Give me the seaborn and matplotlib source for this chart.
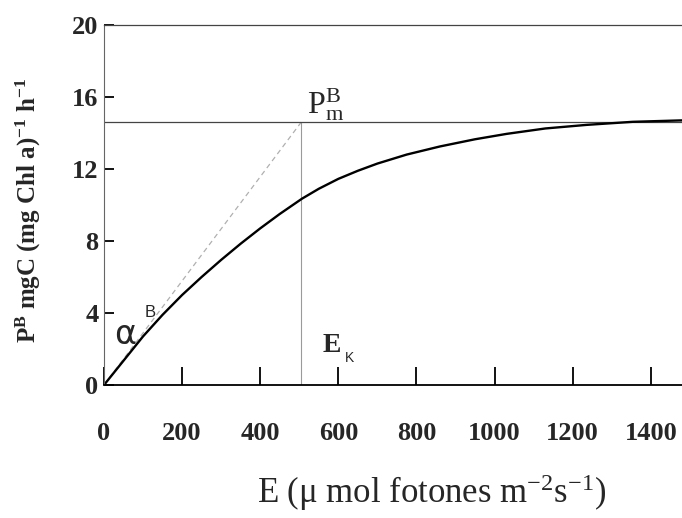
import numpy as np
import pandas as pd
import matplotlib
matplotlib.use("Agg")
import matplotlib.pyplot as plt
import seaborn as sns

# P-E curve
irradiance = [0, 50, 100, 150, 200, 250, 300, 350, 400, 450, 507, 550, 600, 650,
              700, 775, 860, 950, 1031, 1130, 1236, 1354, 1480]
production = [0, 1.35, 2.7, 3.9, 5.0, 6.0, 6.95, 7.85, 8.7, 9.5, 10.35, 10.9,
              11.45, 11.9, 12.3, 12.8, 13.25, 13.65, 13.95, 14.25, 14.45, 14.62, 14.7]

pbm = 14.6   # P^B_m plateau
ek = 505     # E_K
xticks = [0, 200, 400, 600, 800, 1000, 1200, 1400]
yticks = [0, 4, 8, 12, 16, 20]

df = pd.DataFrame({"E": irradiance, "P": production})

sns.set_theme(style="white")
plt.rcParams["font.family"] = ["Liberation Serif", "DejaVu Serif"]
plt.rcParams["mathtext.default"] = "regular"

fig = plt.figure(figsize=(6.82, 5.18), dpi=100)
ax = fig.add_axes([0.1525, 0.2568, 0.8475, 0.695])

# initial slope alpha^B, Ek and Pm guides
ax.plot([0, ek], [0, pbm], color="#b0b0b0", lw=0.9, ls=(0, (4, 3)))
ax.plot([ek, ek], [0, pbm], color="#9a9a9a", lw=0.8)
ax.axhline(pbm, color="#444444", lw=0.9)

sns.lineplot(data=df, x="E", y="P", color="black", lw=1.7, ax=ax)

ax.set_xlim(0, 1480)
ax.set_ylim(0, 20)
ax.set_xticks(xticks)
ax.set_yticks(yticks)
ax.set_xlabel("")
ax.set_ylabel("")

ax.tick_params(axis="x", bottom=True, direction="in", length=13, width=1.3,
               color="black", pad=27, labelsize=19)
ax.tick_params(axis="y", left=True, direction="in", length=7, width=1.3,
               color="black", pad=4, labelsize=19)
for lab in ax.get_xticklabels() + ax.get_yticklabels():
    lab.set_fontweight("bold")

ax.spines["right"].set_visible(False)
ax.spines["top"].set_color("#444444")
ax.spines["top"].set_linewidth(0.9)
ax.spines["left"].set_color("#666666")
ax.spines["left"].set_linewidth(0.8)
ax.spines["bottom"].set_color("black")
ax.spines["bottom"].set_linewidth(1.3)

# annotations
ax.text(520, 15.1, r"$P^{B}_{m}$", fontsize=23, ha="left", va="baseline")
ax.text(25, 1.9, r"$\alpha$", fontsize=24, ha="left", va="bottom",
        family=["DejaVu Sans"])
ax.text(103, 3.6, "B", fontsize=12, ha="left", va="bottom",
        family=["Liberation Sans"])
ax.text(560, 1.5, "E", fontsize=20, fontweight="bold", ha="left", va="bottom")
ax.text(617, 1.1, "K", fontsize=10, ha="left", va="bottom",
        family=["Liberation Sans"])

fig.text(432 / 682, 1 - 493 / 518, r"E ($\mu$ mol fotones m$^{-2}$s$^{-1}$)",
         fontsize=25, ha="center", va="center")
fig.text(28 / 682, 1 - 210 / 518, r"P$^{B}$ mgC (mg Chl a)$^{-1}$ h$^{-1}$",
         fontsize=18, fontweight="bold", rotation=90, ha="center", va="center")

fig.savefig("out.png", dpi=100)
